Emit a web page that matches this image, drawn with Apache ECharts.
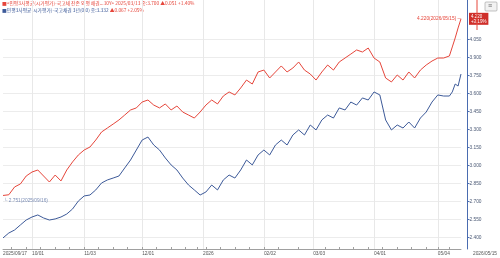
<!DOCTYPE html>
<html><head><meta charset="utf-8">
<script src="https://cdn.jsdelivr.net/npm/echarts@6/dist/echarts.min.js"></script>
<style>html,body{margin:0;padding:0;background:#fff}#c{width:500px;height:258px}</style>
</head><body><div id="c"></div>
<script>
const startDate = '2025/09/17', endDate = '2026/05/15';
const holidays = ['2025/10/03','2025/10/06','2025/10/07','2025/10/08','2025/10/09','2025/12/25','2025/12/31','2026/01/01','2026/02/16','2026/02/17','2026/02/18','2026/03/02','2026/05/01','2026/05/05'];
const sampleDates = ['2025/09/17','2025/09/19','2025/09/23','2025/09/25','2025/09/29','2025/10/01','2025/10/10','2025/10/14','2025/10/16','2025/10/20','2025/10/22','2025/10/24','2025/10/28','2025/10/30','2025/11/03','2025/11/05','2025/11/07','2025/11/11','2025/11/13','2025/11/17','2025/11/19','2025/11/21','2025/11/25','2025/11/27','2025/12/01','2025/12/03','2025/12/05','2025/12/09','2025/12/11','2025/12/15','2025/12/17','2025/12/19','2025/12/23','2025/12/26','2025/12/30','2026/01/05','2026/01/07','2026/01/09','2026/01/13','2026/01/15','2026/01/19','2026/01/21','2026/01/23','2026/01/27','2026/01/29','2026/02/02','2026/02/04','2026/02/06','2026/02/10','2026/02/12','2026/02/19','2026/02/23','2026/02/25','2026/02/27','2026/03/04','2026/03/06','2026/03/10','2026/03/12','2026/03/16','2026/03/18','2026/03/20','2026/03/24','2026/03/26','2026/03/30','2026/04/01','2026/04/03','2026/04/07','2026/04/09','2026/04/13','2026/04/15','2026/04/17','2026/04/21','2026/04/23','2026/04/27','2026/04/29','2026/05/04','2026/05/07','2026/05/11','2026/05/12','2026/05/13','2026/05/14','2026/05/15'];
const redValues = [2.751,2.757,2.822,2.847,2.913,2.946,2.963,2.913,2.863,2.921,2.872,2.963,3.030,3.088,3.129,3.154,3.212,3.279,3.312,3.345,3.379,3.420,3.462,3.479,3.528,3.545,3.503,3.479,3.512,3.462,3.495,3.445,3.420,3.395,3.445,3.503,3.545,3.512,3.578,3.612,3.587,3.645,3.711,3.678,3.778,3.794,3.728,3.778,3.828,3.778,3.811,3.861,3.794,3.761,3.711,3.778,3.836,3.794,3.861,3.894,3.927,3.961,3.944,3.977,3.894,3.861,3.728,3.695,3.753,3.711,3.778,3.728,3.794,3.836,3.869,3.894,3.894,3.911,3.986,4.061,4.144,4.220];
const blueValues = [2.398,2.439,2.464,2.506,2.547,2.572,2.589,2.564,2.547,2.556,2.572,2.597,2.639,2.705,2.747,2.755,2.797,2.855,2.880,2.896,2.913,2.980,3.046,3.129,3.212,3.237,3.171,3.129,3.063,3.005,2.963,2.896,2.838,2.797,2.755,2.780,2.838,2.797,2.880,2.921,2.896,2.963,3.046,3.005,3.088,3.129,3.088,3.171,3.212,3.171,3.254,3.296,3.254,3.337,3.296,3.379,3.420,3.395,3.479,3.462,3.528,3.503,3.562,3.545,3.612,3.587,3.379,3.296,3.337,3.312,3.362,3.312,3.395,3.445,3.528,3.587,3.578,3.578,3.612,3.678,3.661,3.761];
const yTickValues = [2.4,2.55,2.7,2.85,3.0,3.15,3.3,3.45,3.6,3.75,3.9,4.05];
const xTickDates = ['2025/09/17','2025/10/01','2025/11/03','2025/12/01','2026/01/02','2026/02/02','2026/03/03','2026/04/01','2026/05/04','2026/05/15'];
const xTickLabels = ['2025/09/17','10/01','11/03','12/01','2026','02/02','03/03','04/01','05/04','2026/05/15'];
const redName = '<민평3사평균(시가평가)-국고채 잔존 외평 채권...10Y>';
const blueName = '민평3사평균(시가평가)-국고채권 3년(0.0)';
const redLegendTail = ' 2025/03/13 종:3.700 ▲0.051 +1.40%';
const blueLegendClose = ' 종:3.332 ';
const blueLegendChange = '▲0.067 +2.05%';
const maxLabel = '4.220(2026/05/15)';
const minLabel = '2.751(2025/09/16)';
const lastTag = '4.220\n+3.19%';

function parseD(s){const p=s.split('/').map(Number);return new Date(Date.UTC(p[0],p[1]-1,p[2]));}
function fmtD(d){return d.getUTCFullYear()+'/'+String(d.getUTCMonth()+1).padStart(2,'0')+'/'+String(d.getUTCDate()).padStart(2,'0');}
const categories = [];
for (let d = parseD(startDate); d <= parseD(endDate); d = new Date(d.getTime()+86400000)) {
  const w = d.getUTCDay(), s = fmtD(d);
  if (w !== 0 && w !== 6 && holidays.indexOf(s) < 0) categories.push(s);
}
const RED = '#e6463b', BLUE = '#3d5a99';
const FONT = '"Liberation Sans", "Noto Sans CJK KR", sans-serif';
const KFONT = '"Noto Sans CJK KR", sans-serif';
const lastIdx = sampleDates.length - 1;

const chart = echarts.init(document.getElementById('c'), null, {renderer:'canvas'});
chart.setOption({
  animation: false,
  backgroundColor: '#fff',
  grid: {left: 0, right: 29.5, top: 0, bottom: 9},
  xAxis: {
    type: 'category', data: categories, boundaryGap: false,
    axisLine: {lineStyle: {color: '#a0a0a0', width: 1}},
    axisTick: {show: true, inside: true, length: 2, lineStyle: {color: '#a0a0a0'},
      interval: (i, v) => parseD(v).getUTCDay() === 1},
    axisLabel: {
      interval: (i, v) => xTickDates.indexOf(v) >= 0,
      formatter: (v) => { const k = xTickDates.indexOf(v); const t = k >= 0 ? xTickLabels[k] : v; return k === xTickDates.length-1 ? '{e|'+t+'}' : t; },
      rich: {e: {padding: [0,0,0,12], fontSize: 4.8, color: '#555', fontFamily: FONT}},
      align: 'left', fontSize: 4.8, color: '#555', margin: 2, fontFamily: FONT
    },
    splitLine: {show: true, interval: (i, v) => { const k = xTickDates.indexOf(v); return k > 0 && k < xTickDates.length-1; },
      lineStyle: {color: '#e8e8e8', width: 1}}
  },
  yAxis: {
    type: 'value', position: 'right', offset: 6.5, min: 2.306, max: 4.3765,
    axisLine: {show: true, lineStyle: {color: '#4a6cb0', width: 1}},
    axisTick: {show: true, customValues: yTickValues, length: 2, lineStyle: {color: '#4a6cb0'}},
    axisLabel: {customValues: yTickValues, formatter: (v) => v.toFixed(3), fontSize: 4.8, color: '#4a5874', margin: 2, fontFamily: FONT},
    splitLine: {show: true, lineStyle: {color: '#ececec', width: 1}}
  },
  graphic: [
    {type: 'text', left: 2, top: 1, style: {
      text: '{r|■' + redName + redLegendTail + '}\n{b|■' + blueName + blueLegendClose + '}{r|' + blueLegendChange + '}',
      rich: {r: {fill: RED, fontSize: 4.8, fontFamily: KFONT, lineHeight: 7}, b: {fill: BLUE, fontSize: 4.8, fontFamily: KFONT, lineHeight: 7}}
    }},
    {type: 'line', shape: {x1: 477, y1: 0, x2: 477, y2: 30}, style: {stroke: RED, lineWidth: 1}, z: 100},
    {type: 'rect', shape: {x: 485, y: 2, width: 12, height: 9, r: 1}, style: {fill: '#f2f2f2', stroke: '#9a9a9a', lineWidth: 0.6}, z: 100},
    {type: 'text', x: 488, y: 2.5, style: {text: '≡', fill: '#666', fontSize: 7, fontFamily: FONT}, z: 101}
  ],
  series: [
    {
      name: 'red', type: 'line', showSymbol: false, data: sampleDates.map((d, i) => [d, redValues[i]]),
      lineStyle: {color: RED, width: 1}, itemStyle: {color: RED}, z: 3,
      markPoint: {symbol: 'circle', symbolSize: 0, silent: true, data: [
        {type: 'max', label: {show: true, position: 'left', distance: 0, formatter: maxLabel + ' ─', color: RED, fontSize: 4.8, fontFamily: FONT}},
        {type: 'min', label: {show: true, position: 'right', distance: 1, offset: [0, 5], formatter: '└ ' + minLabel, color: '#7b8db5', fontSize: 4.8, fontFamily: FONT}},
        {coord: [sampleDates[lastIdx], redValues[lastIdx]], label: {show: true, position: 'right', distance: 8, formatter: lastTag,
          backgroundColor: '#cf2f2a', color: '#fff', fontSize: 4.5, lineHeight: 5, padding: [1,2,1,2], fontFamily: FONT}}
      ]}
    },
    {
      name: 'blue', type: 'line', showSymbol: false, data: sampleDates.map((d, i) => [d, blueValues[i]]),
      lineStyle: {color: BLUE, width: 1}, itemStyle: {color: BLUE}, z: 2
    }
  ]
});
</script></body></html>
